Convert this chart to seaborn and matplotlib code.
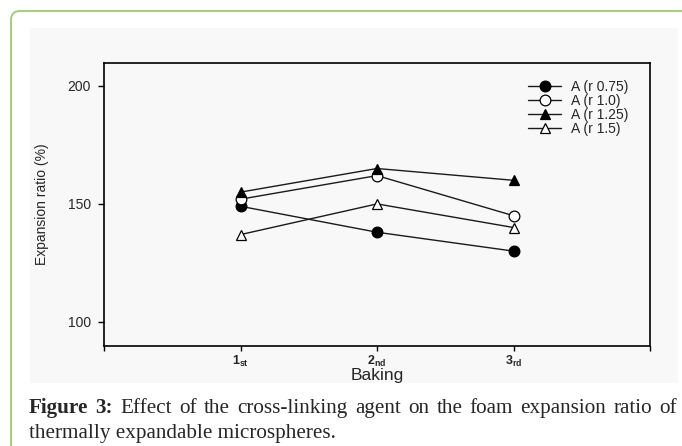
import matplotlib.pyplot as plt
import matplotlib.patches as mpatches
import numpy as np
import pandas as pd
import seaborn as sns

# data
stages = ['1st', '2nd', '3rd']
stage_labels = [r'$\mathbf{1}_{\mathbf{st}}$', r'$\mathbf{2}_{\mathbf{nd}}$', r'$\mathbf{3}_{\mathbf{rd}}$']
series_names = ['A (r 0.75)', 'A (r 1.0)', 'A (r 1.25)', 'A (r 1.5)']
ratio_075 = [149, 138, 130]
ratio_100 = [152, 162, 145]
ratio_125 = [155, 165, 160]
ratio_150 = [137, 150, 140]

caption_bold = 'Figure 3:'
caption_line1 = 'Effect of the cross-linking agent on the foam expansion ratio of'
caption_line2 = 'thermally expandable microspheres.'

sns.set_style('white')
plt.rcParams['font.family'] = ['Liberation Sans', 'DejaVu Sans']
plt.rcParams['mathtext.fontset'] = 'custom'
plt.rcParams['mathtext.rm'] = 'Liberation Sans'
plt.rcParams['mathtext.bf'] = 'Liberation Sans:bold'


def build_frame():
    pos = np.arange(1, len(stages) + 1)
    rows = []
    for name, vals in zip(series_names, [ratio_075, ratio_100, ratio_125, ratio_150]):
        for p, v in zip(pos, vals):
            rows.append({'series': name, 'pos': p, 'value': v})
    return pd.DataFrame(rows)


def draw_page(fig):
    # light picture background + green rounded card border
    fig.patches.append(mpatches.Rectangle((30 / 682, 1 - 383 / 446), 648 / 682, 355 / 446,
                                          transform=fig.transFigure, facecolor='#f8f8f8',
                                          edgecolor='none', zorder=-2))
    card = mpatches.FancyBboxPatch((11, -40), 720, 475, boxstyle='round,pad=0,rounding_size=9',
                                   transform=None, facecolor='none', edgecolor='#9ccc65',
                                   linewidth=1.3, zorder=-1)
    fig.patches.append(card)


def draw_caption(fig):
    renderer = fig.canvas.get_renderer()
    x0, x1 = 29, 677
    fs = 15.2
    words = [(w, 'bold') for w in caption_bold.split()] + [(w, 'normal') for w in caption_line1.split()]
    texts = []
    for w, weight in words:
        t = fig.text(0, 0, w, fontsize=fs, fontweight=weight, family='Liberation Serif',
                     transform=None, va='baseline')
        texts.append(t)
    widths = [t.get_window_extent(renderer).width for t in texts]
    gap = (x1 - x0 - sum(widths)) / (len(texts) - 1)
    x = x0
    for t, w in zip(texts, widths):
        t.set_position((x, 446 - 413))
        x += w + gap
    fig.text(x0, 446 - 438, caption_line2, fontsize=fs, family='Liberation Serif',
             transform=None, va='baseline')


def main():
    df = build_frame()
    fig = plt.figure(figsize=(6.82, 4.46), dpi=100)
    fig.patch.set_facecolor('white')
    draw_page(fig)
    ax = fig.add_axes([104 / 682, 1 - 346 / 446, 546 / 682, 283 / 446])
    ax.set_facecolor('none')

    styles = {
        'A (r 0.75)': ('o', 'black', 7.7),
        'A (r 1.0)': ('o', 'white', 7.7),
        'A (r 1.25)': ('^', 'black', 7.5),
        'A (r 1.5)': ('^', 'white', 7.5),
    }
    for name in series_names:
        m, fc, ms = styles[name]
        sub = df[df['series'] == name]
        sns.lineplot(data=sub, x='pos', y='value', ax=ax, color='#1a1a1a', linewidth=1.0,
                     marker=m, markersize=ms, markerfacecolor=fc,
                     markeredgecolor='black', markeredgewidth=0.9, label=name)

    ax.set_xlim(0, len(stages) + 1)
    ax.set_ylim(89.8, 209.7)
    ax.set_xticks(np.arange(0, len(stages) + 2))
    ax.set_xticklabels([''] + stage_labels + [''], fontsize=9)
    ax.set_yticks([100, 150, 200])
    ax.set_yticklabels(['100', '150', '200'], fontsize=10)
    ax.tick_params(axis='y', direction='out', length=4.5, width=1, color='black', pad=5, left=True)
    ax.tick_params(axis='x', direction='out', length=3.5, width=1, color='black', pad=2.5, bottom=True)
    for s in ax.spines.values():
        s.set_visible(True)
        s.set_color('black')
        s.set_linewidth(1.2)

    ax.set_xlabel('Baking', fontsize=12.5)
    ax.set_ylabel('Expansion ratio (%)', fontsize=10)
    ax.xaxis.set_label_coords(0.5, -0.079)
    ax.yaxis.set_label_coords(-0.1007, 0.502)

    ax.legend(loc='upper left', bbox_to_anchor=(0.7766, 0.9407), frameon=False, fontsize=10,
              handlelength=2.4, handletextpad=0.7, labelspacing=0.0, borderpad=0,
              borderaxespad=0)

    draw_caption(fig)
    fig.savefig('out.png', dpi=100)


if __name__ == '__main__':
    main()
